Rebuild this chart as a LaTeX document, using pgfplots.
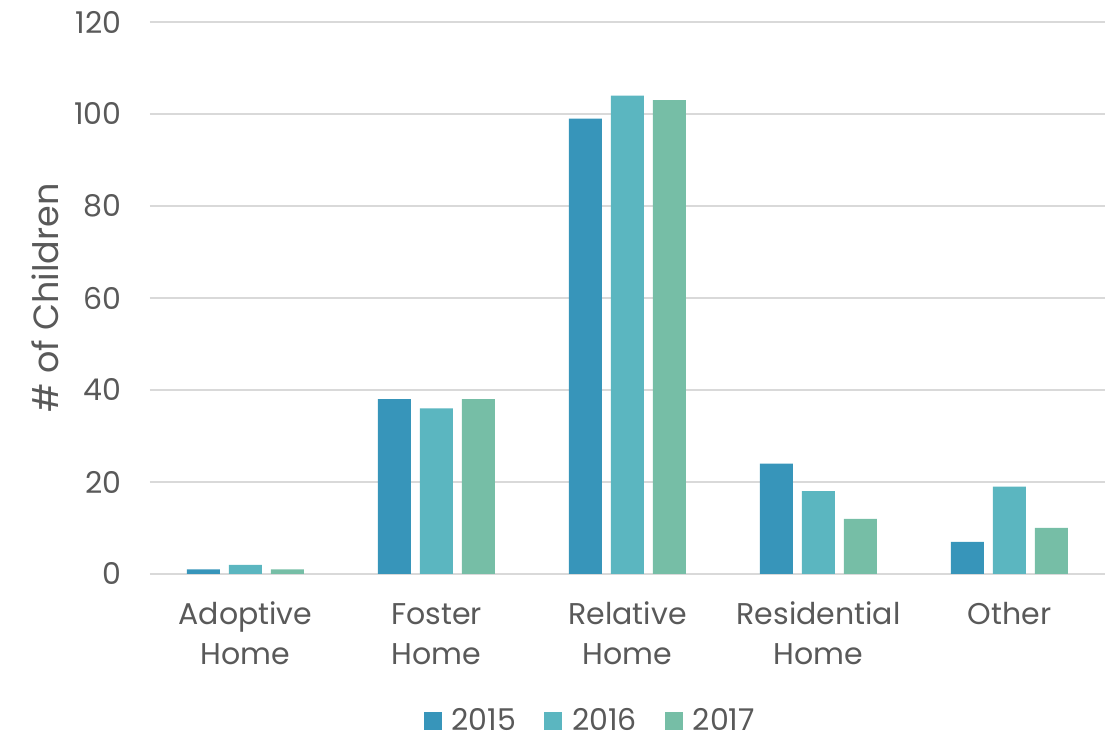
\documentclass[border=0pt]{standalone}
\usepackage{fontspec}
\setmainfont{Poppins}
\usepackage{pgfplots}
\pgfplotsset{compat=1.18}

\definecolor{c15}{HTML}{3795BA}
\definecolor{c16}{HTML}{5BB6C0}
\definecolor{c17}{HTML}{76BEA6}
\definecolor{txt}{HTML}{595959}
\definecolor{gridc}{HTML}{D9D9D9}

\begin{document}
\begin{tikzpicture}
\useasboundingbox (0,0) rectangle (557.5pt,371pt);
\begin{axis}[
    at={(75pt,84pt)}, anchor=south west,
    scale only axis,
    width=477.5pt, height=276pt,
    ybar=4.5pt, bar width=16.5pt,
    xmin=-0.5, xmax=4.5,
    ymin=0, ymax=120,
    ytick={0,20,...,120},
    xtick={0,1,2,3,4},
    xticklabels={\strut Adoptive\\Home, \strut Foster\\Home, \strut Relative\\Home, \strut Residential\\Home, \strut Other},
    xticklabel style={align=center, anchor=north, inner sep=0pt, yshift=-11pt, font=\fontsize{15}{20}\selectfont, text=txt},
    yticklabel style={anchor=east, inner sep=0pt, xshift=-14pt, font=\fontsize{15}{18}\selectfont, text=txt},
    /pgf/number format/assume math mode=true,
    major tick length=0pt,
    ymajorgrids, grid style={draw=gridc, line width=0.8pt},
    axis x line*=bottom, axis y line*=left,
    x axis line style={draw=gridc, line width=1pt},
    y axis line style={draw=none},
    ylabel={\# of Children},
    ylabel style={at={(axis description cs:-0.11,0.5)}, anchor=center, font=\fontsize{17.5}{20}\selectfont, text=txt},
    legend style={at={(0.462,-0.266)}, anchor=center, draw=none, legend columns=-1,
        font=\fontsize{15}{18}\selectfont, text=txt,
        /tikz/every odd column/.append style={column sep=3pt},
        /tikz/every even column/.append style={column sep=12pt}},
    legend image code/.code={\fill[#1] (0pt,-4.5pt) rectangle (9pt,4.5pt);},
]
\addplot[fill=c15, draw=none] coordinates {(0,1) (1,38) (2,99) (3,24) (4,7)};
\addplot[fill=c16, draw=none] coordinates {(0,2) (1,36) (2,104) (3,18) (4,19)};
\addplot[fill=c17, draw=none] coordinates {(0,1) (1,38) (2,103) (3,12) (4,10)};
\legend{2015,2016,2017}
\end{axis}
\end{tikzpicture}
\end{document}
